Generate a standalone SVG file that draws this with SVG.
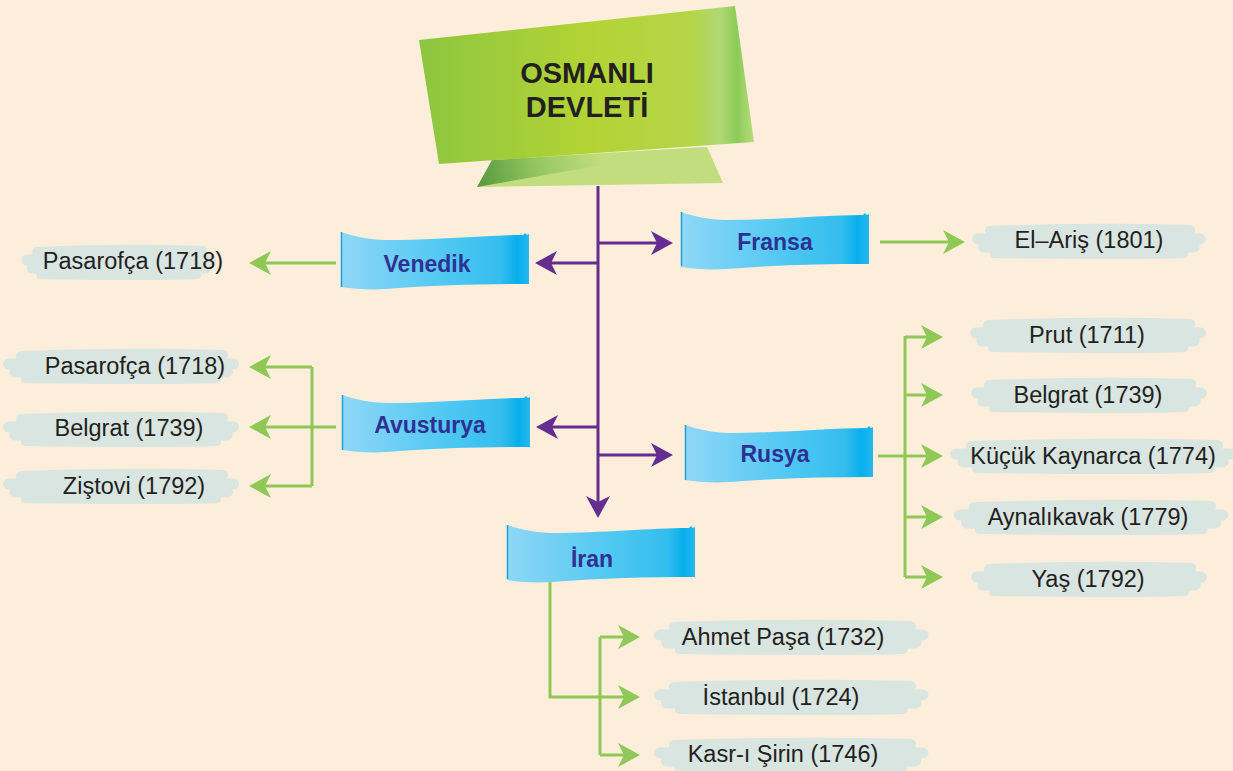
<svg xmlns="http://www.w3.org/2000/svg" xmlns:xlink="http://www.w3.org/1999/xlink" width="1233" height="771" viewBox="0 0 1233 771">
<style>
.title{font-family:"Liberation Sans",Arial,sans-serif;font-weight:bold;font-size:29px;fill:#231f20;text-anchor:middle}
.btxt{font-family:"Liberation Sans",Arial,sans-serif;font-weight:bold;font-size:23px;fill:#2e3192;text-anchor:middle}
.lbl{font-family:"Liberation Sans",Arial,sans-serif;font-size:23.5px;fill:#231f20;text-anchor:middle}
.pl{fill:none;stroke:#662d91;stroke-width:3}
.gl{fill:none;stroke:#8fc857;stroke-width:3}
</style>
<defs>
<linearGradient id="gBlue" x1="0" y1="0" x2="1" y2="0">
<stop offset="0" stop-color="#8fd7f7"/>
<stop offset="0.55" stop-color="#50c8f2"/>
<stop offset="0.85" stop-color="#34bdee"/>
<stop offset="0.94" stop-color="#06afec"/>
<stop offset="1" stop-color="#27b7ee"/>
</linearGradient>
<linearGradient id="gTitle" x1="419" y1="0" x2="754" y2="0" gradientUnits="userSpaceOnUse">
<stop offset="0" stop-color="#8cc640"/>
<stop offset="0.5" stop-color="#b3d334"/>
<stop offset="0.82" stop-color="#b5d54a"/>
<stop offset="0.9" stop-color="#b0d875"/>
<stop offset="0.95" stop-color="#8ccb58"/>
<stop offset="1" stop-color="#b8dc7c"/>
</linearGradient>
<linearGradient id="gFlap" x1="480" y1="186" x2="600" y2="160" gradientUnits="userSpaceOnUse">
<stop offset="0" stop-color="#5a9a42"/>
<stop offset="0.5" stop-color="#96c860"/>
<stop offset="1" stop-color="#c2dd7e"/>
</linearGradient>
<path id="banner" d="M0,0 C12,4 28,8 45,8 C95,8 145,3 182,3 L184,1 L186,3 L188,2 L188,52 C140,52 95,53 45,57 C28,58 14,57 0,55 Z"/>
<g id="brush" fill="none" stroke="#d6e5e2" stroke-linecap="round" opacity="0.9">
<path d="M-96,-11 C-40,-13 40,-14 100,-12" stroke-width="10"/>
<path d="M-108,-3 C-40,-5 50,-5 110,-3" stroke-width="11"/>
<path d="M-102,5 C-30,4 40,6 104,5" stroke-width="11"/>
<path d="M-92,12 C-30,13 40,14 94,12" stroke-width="8"/>
</g>
<marker id="ap" viewBox="0 -12 22 24" refX="6" refY="0" markerWidth="22" markerHeight="24" markerUnits="userSpaceOnUse" orient="auto">
<path d="M0,-12 L22,0 L0,12 L6,0 Z" fill="#662d91"/>
</marker>
<marker id="ag" viewBox="0 -12 22 24" refX="6" refY="0" markerWidth="22" markerHeight="24" markerUnits="userSpaceOnUse" orient="auto">
<path d="M0,-12 L22,0 L0,12 L6,0 Z" fill="#8fc857"/>
</marker>
</defs>
<rect width="1233" height="771" fill="#fdeedb"/>

<g id="connectors">
<path class="pl" d="M598,186 V502" marker-end="url(#ap)"/>
<path class="pl" d="M598,263 H551" marker-end="url(#ap)"/>
<path class="pl" d="M598,243 H657" marker-end="url(#ap)"/>
<path class="pl" d="M598,427 H552" marker-end="url(#ap)"/>
<path class="pl" d="M598,455 H657" marker-end="url(#ap)"/>

<path class="gl" d="M336,263 H265" marker-end="url(#ag)"/>
<path class="gl" d="M880,242 H949" marker-end="url(#ag)"/>

<path class="gl" d="M336,427 H312"/>
<path class="gl" d="M312,367 V486"/>
<path class="gl" d="M312,367 H265" marker-end="url(#ag)"/>
<path class="gl" d="M312,427 H265" marker-end="url(#ag)"/>
<path class="gl" d="M312,486 H265" marker-end="url(#ag)"/>

<path class="gl" d="M878,456 H905"/>
<path class="gl" d="M905,336 V577"/>
<path class="gl" d="M905,337 H927" marker-end="url(#ag)"/>
<path class="gl" d="M905,395 H927" marker-end="url(#ag)"/>
<path class="gl" d="M905,456 H927" marker-end="url(#ag)"/>
<path class="gl" d="M905,517 H927" marker-end="url(#ag)"/>
<path class="gl" d="M905,577 H927" marker-end="url(#ag)"/>

<path class="gl" d="M550,580 V697 H624" marker-end="url(#ag)"/>
<path class="gl" d="M600,637 V755"/>
<path class="gl" d="M600,637 H624" marker-end="url(#ag)"/>
<path class="gl" d="M600,755 H624" marker-end="url(#ag)"/>
</g>

<g id="osmanli">
<polygon points="492,160 707,147 723,183 477,187" fill="#c2dd7e"/>
<polygon points="492,160 707,147 477,187" fill="url(#gFlap)"/>
<polygon points="419,40 735,6 754,142 439,164" fill="url(#gTitle)"/>
<text class="title" x="587" y="83">OSMANLI</text>
<text class="title" x="587" y="117">DEVLETİ</text>
</g>

<g id="venedik">
<use xlink:href="#banner" href="#banner" transform="translate(341,232)" fill="url(#gBlue)"/>
<line x1="341.5" y1="232" x2="341.5" y2="287" stroke="#1d9fd8" stroke-width="1.5"/>
<text class="btxt" x="427" y="272">Venedik</text>
</g>
<g id="fransa">
<use xlink:href="#banner" href="#banner" transform="translate(681,212)" fill="url(#gBlue)"/>
<line x1="681.5" y1="212" x2="681.5" y2="266" stroke="#1d9fd8" stroke-width="1.5"/>
<text class="btxt" x="775" y="250">Fransa</text>
</g>
<g id="avusturya">
<use xlink:href="#banner" href="#banner" transform="translate(342,395)" fill="url(#gBlue)"/>
<line x1="342.5" y1="395" x2="342.5" y2="450" stroke="#1d9fd8" stroke-width="1.5"/>
<text class="btxt" x="430" y="433">Avusturya</text>
</g>
<g id="rusya">
<use xlink:href="#banner" href="#banner" transform="translate(685,425)" fill="url(#gBlue)"/>
<line x1="685.5" y1="425" x2="685.5" y2="480" stroke="#1d9fd8" stroke-width="1.5"/>
<text class="btxt" x="775" y="462">Rusya</text>
</g>
<g id="iran">
<use xlink:href="#banner" href="#banner" transform="translate(507,525)" fill="url(#gBlue)"/>
<line x1="507.5" y1="525" x2="507.5" y2="579" stroke="#1d9fd8" stroke-width="1.5"/>
<text class="btxt" x="592" y="567">İran</text>
</g>

<g id="venedik-pasarofca">
<use xlink:href="#brush" href="#brush" transform="translate(118,263) scale(0.85,1)"/>
<text class="lbl" x="133" y="269">Pasarofça (1718)</text>
</g>
<g id="fransa-elaris">
<use xlink:href="#brush" href="#brush" transform="translate(1088,242) scale(1.02,1)"/>
<text class="lbl" x="1089" y="248">El–Ariş (1801)</text>
</g>

<g id="avusturya-pasarofca">
<use xlink:href="#brush" href="#brush" transform="translate(120,367) scale(1.03,1)"/>
<text class="lbl" x="135" y="374">Pasarofça (1718)</text>
</g>
<g id="avusturya-belgrat">
<use xlink:href="#brush" href="#brush" transform="translate(120,430) scale(1.03,1)"/>
<text class="lbl" x="129" y="436">Belgrat (1739)</text>
</g>
<g id="avusturya-zistovi">
<use xlink:href="#brush" href="#brush" transform="translate(120,487) scale(1.03,1)"/>
<text class="lbl" x="134" y="494">Ziştovi (1792)</text>
</g>

<g id="rusya-prut">
<use xlink:href="#brush" href="#brush" transform="translate(1087,336) scale(1.03,1)"/>
<text class="lbl" x="1087" y="343">Prut (1711)</text>
</g>
<g id="rusya-belgrat">
<use xlink:href="#brush" href="#brush" transform="translate(1088,396) scale(1.03,1)"/>
<text class="lbl" x="1088" y="403">Belgrat (1739)</text>
</g>
<g id="rusya-kucukkaynarca">
<use xlink:href="#brush" href="#brush" transform="translate(1092,457) scale(1.25,1)"/>
<text class="lbl" x="1093" y="464">Küçük Kaynarca (1774)</text>
</g>
<g id="rusya-aynalikavak">
<use xlink:href="#brush" href="#brush" transform="translate(1090,518) scale(1.2,1)"/>
<text class="lbl" x="1088" y="525">Aynalıkavak (1779)</text>
</g>
<g id="rusya-yas">
<use xlink:href="#brush" href="#brush" transform="translate(1088,580) scale(1.03,1)"/>
<text class="lbl" x="1088" y="587">Yaş (1792)</text>
</g>

<g id="iran-ahmetpasa">
<use xlink:href="#brush" href="#brush" transform="translate(790,638) scale(1.2,1)"/>
<text class="lbl" x="783" y="645">Ahmet Paşa (1732)</text>
</g>
<g id="iran-istanbul">
<use xlink:href="#brush" href="#brush" transform="translate(790,698) scale(1.2,1)"/>
<text class="lbl" x="781" y="705">İstanbul (1724)</text>
</g>
<g id="iran-kasrisirin">
<use xlink:href="#brush" href="#brush" transform="translate(790,756) scale(1.2,1)"/>
<text class="lbl" x="783" y="762">Kasr-ı Şirin (1746)</text>
</g>
</svg>
